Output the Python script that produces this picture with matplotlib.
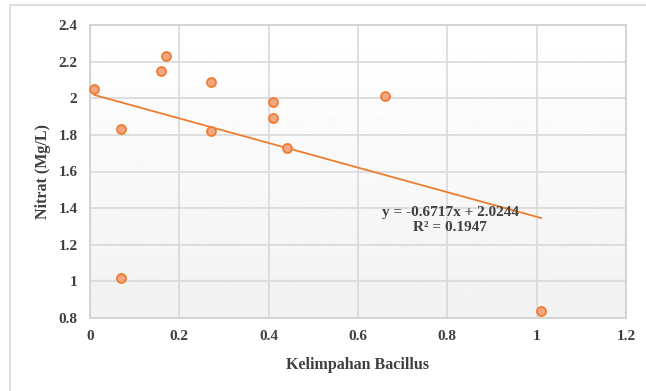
import numpy as np
import matplotlib.pyplot as plt
from matplotlib.patches import Rectangle

# data
bacillus = [0.01, 0.07, 0.07, 0.16, 0.17, 0.27, 0.27, 0.41, 0.41, 0.44, 0.66, 1.01]
nitrat = [2.05, 1.83, 1.02, 2.15, 2.23, 2.09, 1.82, 1.98, 1.89, 1.73, 2.01, 0.84]
slope = -0.6717
intercept = 2.0244
r2 = 0.1947

x_ticks = [0, 0.2, 0.4, 0.6, 0.8, 1, 1.2]
x_labels = ["0", "0.2", "0.4", "0.6", "0.8", "1", "1.2"]
y_ticks = [0.8, 1, 1.2, 1.4, 1.6, 1.8, 2, 2.2, 2.4]
y_labels = ["0.8", "1", "1.2", "1.4", "1.6", "1.8", "2", "2.2", "2.4"]

plt.rcParams['font.family'] = ['Liberation Serif', 'DejaVu Serif']
text_col = '#404040'
orange = '#ED7D31'

W, H = 646, 391
fig = plt.figure(figsize=(W / 100, H / 100), dpi=100)

# outer chart border (only top/left visible)
fig.patches.append(Rectangle((10 / W, -0.1), 1.2, 1 - 5 / H + 0.1, transform=fig.transFigure,
                             fill=False, edgecolor='#d9d9d9', linewidth=1.2))

ax = fig.add_axes([90 / W, 1 - 318 / H, (626 - 90) / W, (318 - 25) / H])

# light vertical gradient background of plot area
grad = np.linspace(1.0, 0.95, 256).reshape(-1, 1)
ax.imshow(grad, extent=[0, 1, 0, 1], transform=ax.transAxes, cmap='gray',
          vmin=0, vmax=1, aspect='auto', zorder=0)

ax.set_xlim(0, 1.2)
ax.set_ylim(0.8, 2.4)
ax.set_xticks(x_ticks)
ax.set_xticklabels(x_labels)
ax.set_yticks(y_ticks)
ax.set_yticklabels(y_labels)
ax.grid(True, color='#d9d9d9', linewidth=1.2, zorder=1)
ax.set_axisbelow(True)
for s in ax.spines.values():
    s.set_color('#d0d0d0')
    s.set_linewidth(1.2)
ax.tick_params(length=0, labelsize=11, labelcolor=text_col, pad=9)
for lab in ax.get_xticklabels() + ax.get_yticklabels():
    lab.set_fontweight('bold')

# trendline
xs = np.array([min(bacillus), max(bacillus)])
ax.plot(xs, slope * xs + intercept, color=orange, linewidth=1.3, zorder=3)

ax.scatter(bacillus, nitrat, s=42, facecolor='#F4A582', edgecolor=orange,
           linewidth=1.3, zorder=4, clip_on=False)

ax.text(0.806, 1.335, "y = -0.6717x + 2.0244\nR² = 0.1947", ha='center', va='center',
        fontsize=11, fontweight='bold', color=text_col, linespacing=1.2, zorder=5)

ax.set_xlabel("Kelimpahan Bacillus", fontsize=11.5, fontweight='bold', color=text_col, labelpad=10)
ax.set_ylabel("Nitrat (Mg/L)", fontsize=11.5, fontweight='bold', color=text_col, labelpad=5)

fig.savefig("out.png", dpi=100)
